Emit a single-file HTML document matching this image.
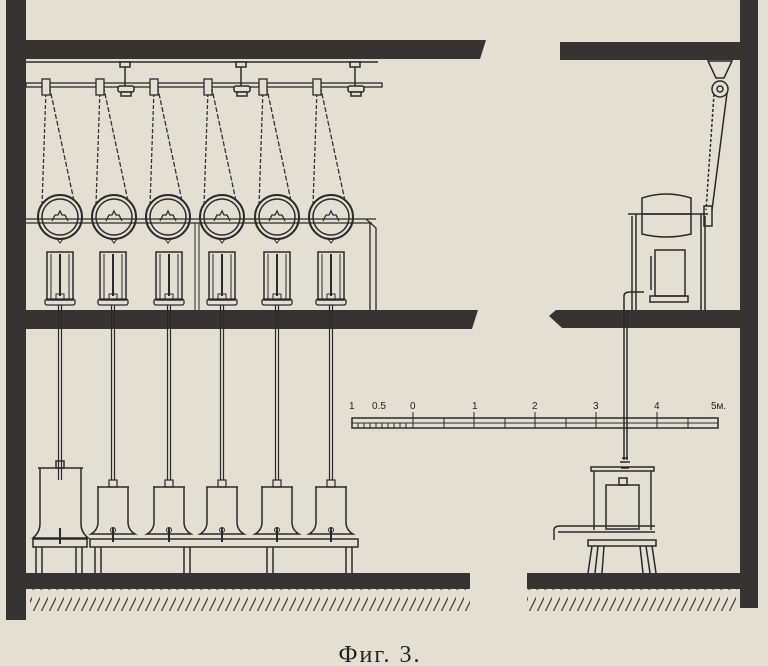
<!DOCTYPE html>
<html><head><meta charset="utf-8"><style>
html,body{margin:0;padding:0;background:#e3dfd3;}
svg{display:block}
</style></head><body>
<svg width="768" height="666" viewBox="0 0 768 666" xmlns="http://www.w3.org/2000/svg">
<defs>
<pattern id="hatch" width="8" height="22" patternUnits="userSpaceOnUse">
<line x1="9" y1="2" x2="1" y2="18" stroke="#444" stroke-width="1.3"/>
</pattern>
<g id="pul">
<circle cx="0" cy="0" r="22" fill="none" stroke="#2a2a2a" stroke-width="2"/>
<circle cx="0" cy="0" r="18" fill="none" stroke="#2a2a2a" stroke-width="1.5"/>
<path d="M-8,4 L-5,-2 L-2,-2 L0,-6 L2,-2 L5,-2 L8,4" fill="none" stroke="#2a2a2a" stroke-width="1.3"/>
<path d="M-3,22 L0,26 L3,22" fill="none" stroke="#2a2a2a" stroke-width="1"/>
<line x1="-18" y1="-12" x2="-14" y2="-128" stroke="#333" stroke-width="1.3" stroke-dasharray="4,2"/>
<line x1="14" y1="-16" x2="-10" y2="-128" stroke="#333" stroke-width="1.3" stroke-dasharray="5,2"/>
<rect x="-18" y="-138" width="8" height="16" fill="#e3dfd3" stroke="#2a2a2a" stroke-width="1.3"/>
</g>
<g id="unit">
<rect x="-13" y="252" width="26" height="48" fill="none" stroke="#2a2a2a" stroke-width="1.5"/>
<line x1="-9" y1="254" x2="-9" y2="300" stroke="#2a2a2a" stroke-width="1"/>
<line x1="9" y1="254" x2="9" y2="300" stroke="#2a2a2a" stroke-width="1"/>
<line x1="0" y1="254" x2="0" y2="296" stroke="#2a2a2a" stroke-width="2"/>
<rect x="-15" y="299" width="30" height="6" rx="2" fill="none" stroke="#2a2a2a" stroke-width="1.3"/>
<rect x="-4" y="294" width="8" height="6" fill="none" stroke="#2a2a2a" stroke-width="1"/>
<line x1="-1.5" y1="305" x2="-1.5" y2="480" stroke="#2a2a2a" stroke-width="1.2"/>
<line x1="1.5" y1="305" x2="1.5" y2="480" stroke="#2a2a2a" stroke-width="1.2"/>
</g>
<g id="tank">
<rect x="-4" y="480" width="8" height="7" fill="none" stroke="#2a2a2a" stroke-width="1.2"/>
<path d="M-16,487 L16,487 M-15,487 L-15,522 Q-15,530 -22,534 L22,534 Q15,530 15,522 L15,487" fill="none" stroke="#2a2a2a" stroke-width="1.5"/>
<line x1="0" y1="528" x2="0" y2="542" stroke="#2a2a2a" stroke-width="2"/>
<circle cx="0" cy="530" r="2.5" fill="none" stroke="#2a2a2a"/>
</g>
</defs>

<g fill="#353432">
<rect x="6" y="0" width="20" height="620"/>
<rect x="26" y="40" width="452" height="19"/>
<polygon points="478,40 486,40 480,59 478,59"/>
<rect x="560" y="42" width="180" height="18"/>
<rect x="740" y="0" width="18" height="608"/>
<rect x="26" y="310" width="445" height="19"/>
<polygon points="471,310 478,310 472,329 471,329"/>
<polygon points="556,310 740,310 740,328 562,328 549,316"/>
<rect x="26" y="573" width="444" height="16"/>
<rect x="527" y="573" width="213" height="16"/>
</g>
<rect x="30" y="589" width="440" height="22" fill="url(#hatch)"/>
<rect x="527" y="589" width="210" height="22" fill="url(#hatch)"/>

<line x1="26" y1="62" x2="378" y2="62" stroke="#2a2a2a" stroke-width="1.5"/>
<rect x="26" y="83" width="356" height="4" fill="none" stroke="#2a2a2a" stroke-width="1.3"/>
<g stroke="#2a2a2a" stroke-width="1.5" fill="#e3dfd3">
<rect x="120" y="62" width="10" height="5"/><line x1="125" y1="67" x2="125" y2="86"/><rect x="118" y="86" width="16" height="6" rx="2"/><rect x="121" y="92" width="10" height="4"/>
<rect x="236" y="62" width="10" height="5"/><line x1="241" y1="67" x2="241" y2="86"/><rect x="234" y="86" width="16" height="6" rx="2"/><rect x="237" y="92" width="10" height="4"/>
<rect x="350" y="62" width="10" height="5"/><line x1="355" y1="67" x2="355" y2="86"/><rect x="348" y="86" width="16" height="6" rx="2"/><rect x="351" y="92" width="10" height="4"/>
</g>
<line x1="26" y1="219" x2="376" y2="219" stroke="#2a2a2a" stroke-width="1.3"/>
<line x1="26" y1="223" x2="372" y2="223" stroke="#2a2a2a" stroke-width="1.3"/>
<path d="M366,219 L376,228 L376,310 M370,223 L370,310" fill="none" stroke="#2a2a2a" stroke-width="1.3"/>
<line x1="195" y1="223" x2="195" y2="310" stroke="#2a2a2a" stroke-width="1"/>
<line x1="199" y1="223" x2="199" y2="310" stroke="#2a2a2a" stroke-width="1"/>

<use href="#pul" x="60" y="217"/>
<use href="#pul" x="114" y="217"/>
<use href="#pul" x="168" y="217"/>
<use href="#pul" x="222" y="217"/>
<use href="#pul" x="277" y="217"/>
<use href="#pul" x="331" y="217"/>

<use href="#unit" x="60" y="0"/>
<use href="#unit" x="113" y="0"/>
<use href="#unit" x="169" y="0"/>
<use href="#unit" x="222" y="0"/>
<use href="#unit" x="277" y="0"/>
<use href="#unit" x="331" y="0"/>

<g stroke="#2a2a2a" stroke-width="1.5" fill="none">
<rect x="56" y="461" width="8" height="7"/>
<path d="M38,468 L83,468 M40,468 L40,524 Q40,532 33,538 L88,538 Q81,532 81,524 L81,468"/>
<line x1="60" y1="528" x2="60" y2="544" stroke-width="2"/>
</g>
<use href="#tank" x="113" y="0"/>
<use href="#tank" x="169" y="0"/>
<use href="#tank" x="222" y="0"/>
<use href="#tank" x="277" y="0"/>
<use href="#tank" x="331" y="0"/>
<g stroke="#2a2a2a" stroke-width="1.5" fill="none">
<rect x="33" y="539" width="54" height="8"/>
<rect x="90" y="539" width="268" height="8"/>
<path d="M36,547 V573 M42,547 V573 M76,547 V573 M82,547 V573 M95,547 V573 M101,547 V573 M184,547 V573 M190,547 V573 M267,547 V573 M273,547 V573 M346,547 V573 M352,547 V573"/>
</g>

<g stroke="#2a2a2a" fill="none">
<rect x="352" y="418" width="366" height="10" stroke-width="1.5"/>
<line x1="352" y1="423" x2="718" y2="423" stroke-width="1"/>
<path d="M413,412 V428 M474,412 V428 M535,412 V428 M596,412 V428 M657,412 V428 M444,418 V428 M505,418 V428 M566,418 V428 M627,418 V428 M688,418 V428 M358,423V428 M364,423V428 M370,423V428 M376,423V428 M382,423V428 M388,423V428 M394,423V428 M400,423V428 M406,423V428" stroke-width="1"/>
</g>
<g font-family="Liberation Sans, sans-serif" font-size="10" fill="#222">
<text x="349" y="409">1</text><text x="372" y="409">0.5</text><text x="410" y="409">0</text>
<text x="472" y="409">1</text><text x="532" y="409">2</text><text x="593" y="409">3</text><text x="654" y="409">4</text><text x="711" y="409">5м.</text>
</g>

<g stroke="#2a2a2a" stroke-width="1.5" fill="none">
<path d="M708,61 L732,61 L724,78 L716,78 Z"/>
<circle cx="720" cy="89" r="8"/><circle cx="720" cy="89" r="3"/>
<line x1="714" y1="94" x2="706" y2="210" stroke-dasharray="3,2"/>
<line x1="727" y1="93" x2="712" y2="210"/>
<rect x="704" y="206" width="8" height="20"/>
<path d="M642,198 Q666,190 691,198 L691,234 Q666,240 642,234 Z"/>
<line x1="642" y1="214" x2="691" y2="214"/>
<line x1="636" y1="214" x2="636" y2="310"/><line x1="632" y1="216" x2="632" y2="310"/>
<line x1="701" y1="214" x2="701" y2="310"/><line x1="705" y1="216" x2="705" y2="310"/>
<line x1="628" y1="214" x2="708" y2="214"/>
<rect x="655" y="250" width="30" height="46"/>
<rect x="650" y="296" width="38" height="6"/>
<line x1="651" y1="256" x2="651" y2="290"/>
<path d="M624,310 V296 Q624,292 630,292 L644,292" />
<line x1="624" y1="310" x2="624" y2="460"/><line x1="627" y1="310" x2="627" y2="460"/>
</g>
<g stroke="#2a2a2a" stroke-width="1.5" fill="none">
<path d="M620,462 L630,462 M622,458 L628,458 M621,468 L629,468"/>
<rect x="591" y="467" width="63" height="4"/>
<line x1="594" y1="471" x2="594" y2="530"/><line x1="651" y1="471" x2="651" y2="530"/>
<rect x="606" y="485" width="33" height="44"/>
<rect x="619" y="478" width="8" height="7"/>
<path d="M554,540 V530 Q554,526 560,526 L655,526 M558,532 L655,532"/>
<rect x="588" y="540" width="68" height="6"/>
<path d="M592,546 L588,573 M598,546 L595,573 M604,546 L602,573 M640,546 L643,573 M646,546 L650,573 M652,546 L656,573"/>
</g>

<text x="380" y="662" text-anchor="middle" font-family="Liberation Serif, serif" font-size="24" letter-spacing="2" fill="#222">Фиг. 3.</text>
</svg>
</body></html>
